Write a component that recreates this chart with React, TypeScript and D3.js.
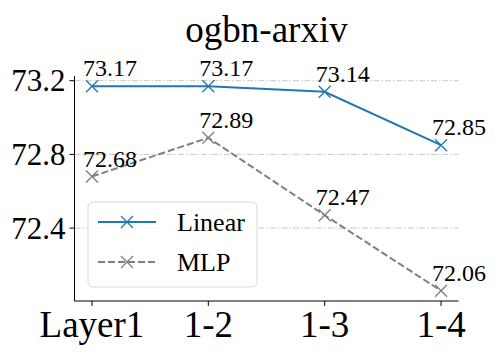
import React from 'react';
import * as d3 from 'd3';

const categories = ['Layer1', '1-2', '1-3', '1-4'];
const linearValues = [73.17, 73.17, 73.14, 72.85];
const mlpValues = [72.68, 72.89, 72.47, 72.06];
const yTicks = [72.4, 72.8, 73.2];

const W = 498;
const H = 356;
const margin = { top: 76, right: 39.5, bottom: 55, left: 74.5 };
const font = 'Liberation Serif';
const blue = '#1f77b4';
const grey = '#808080';

const x = d3.scaleLinear().domain([-0.15, 3.15]).range([margin.left, W - margin.right]);
const allVals = [...linearValues, ...mlpValues];
const lo = d3.min(allVals)!;
const hi = d3.max(allVals)!;
const pad = (hi - lo) * 0.05;
const y = d3.scaleLinear().domain([lo - pad, hi + pad]).range([H - margin.bottom, margin.top]);

const line = d3
  .line<number>()
  .x((_, i) => x(i))
  .y((d) => y(d));

const Cross = ({ cx, cy, color, s = 6 }: { cx: number; cy: number; color: string; s?: number }) => (
  <path d={`M${cx - s},${cy - s}L${cx + s},${cy + s}M${cx - s},${cy + s}L${cx + s},${cy - s}`} stroke={color} strokeWidth={1.3} fill="none" />
);

export default function App() {
  const bottom = H - margin.bottom;
  return (
    <div style={{ position: 'absolute', left: 0, top: 0 }}>
      <svg width={W} height={H} style={{ display: 'block', background: '#fff' }}>
        {/* grid */}
        {yTicks.map((t) => (
          <line key={t} x1={margin.left} x2={W - margin.right} y1={y(t)} y2={y(t)} stroke="#c8c8c8" strokeWidth={1} strokeDasharray="6,2,1.5,2" />
        ))}

        {/* title */}
        <text x={(margin.left + W - margin.right) / 2} y={42} textAnchor="middle" fontSize={37} fontFamily={font}>
          ogbn-arxiv
        </text>

        {/* lines */}
        <path d={line(mlpValues)!} fill="none" stroke={grey} strokeWidth={2} strokeDasharray="7,3" />
        {mlpValues.map((v, i) => (
          <Cross key={i} cx={x(i)} cy={y(v)} color={grey} />
        ))}
        <path d={line(linearValues)!} fill="none" stroke={blue} strokeWidth={2} />
        {linearValues.map((v, i) => (
          <Cross key={i} cx={x(i)} cy={y(v)} color={blue} />
        ))}

        {/* value labels */}
        {[linearValues, mlpValues].map((arr, k) =>
          arr.map((v, i) => (
            <text key={`${k}-${i}`} x={x(i) - 9} y={y(v) - 10} fontSize={24} fontFamily={font}>
              {v.toFixed(2)}
            </text>
          ))
        )}

        {/* axes */}
        <line x1={margin.left} x2={margin.left} y1={margin.top} y2={bottom} stroke="#000" strokeWidth={1} />
        <line x1={margin.left} x2={W - margin.right} y1={bottom} y2={bottom} stroke="#000" strokeWidth={1} />
        {yTicks.map((t) => (
          <g key={t}>
            <line x1={margin.left - 5} x2={margin.left} y1={y(t)} y2={y(t)} stroke="#000" />
            <text x={margin.left - 9} y={y(t) + 10.5} textAnchor="end" fontSize={31} fontFamily={font}>
              {t.toFixed(1)}
            </text>
          </g>
        ))}
        {categories.map((c, i) => (
          <g key={c}>
            <line x1={x(i)} x2={x(i)} y1={bottom} y2={bottom + 5} stroke="#000" />
            <text x={x(i)} y={337} textAnchor="middle" fontSize={37} fontFamily={font}>
              {c}
            </text>
          </g>
        ))}

        {/* legend */}
        <g>
          <rect x={88} y={202} width={169} height={85} rx={5} fill="#fff" fillOpacity={0.85} stroke="#d9d9d9" />
          <line x1={98} x2={156} y1={222} y2={222} stroke={blue} strokeWidth={2} />
          <Cross cx={127} cy={222} color={blue} />
          <text x={177} y={231} fontSize={26} fontFamily={font}>Linear</text>
          <line x1={98} x2={156} y1={262} y2={262} stroke={grey} strokeWidth={2} strokeDasharray="7,3" />
          <Cross cx={127} cy={262} color={grey} />
          <text x={177} y={271} fontSize={26} fontFamily={font}>MLP</text>
        </g>
      </svg>
    </div>
  );
}
